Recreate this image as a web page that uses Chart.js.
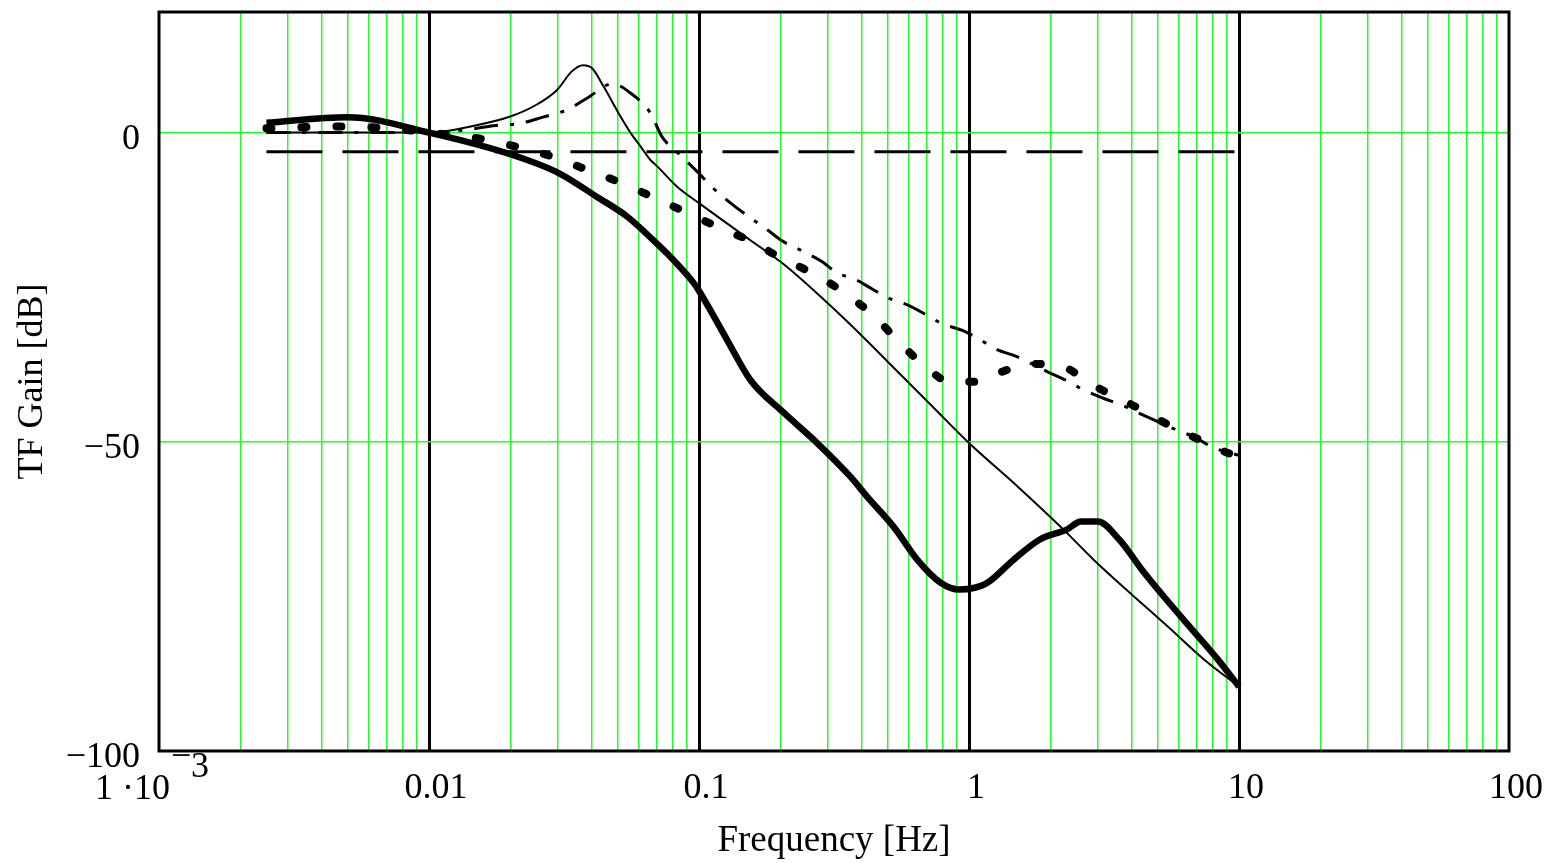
<!DOCTYPE html>
<html>
<head>
<meta charset="utf-8">
<script src="https://cdn.jsdelivr.net/npm/chart.js@4.4.1/dist/chart.umd.min.js"></script>
<style>
html, body { margin: 0; padding: 0; background: #fff; }
canvas { display: block; }
</style>
</head>
<body>
<canvas id="tfChart" width="1547" height="863"></canvas>
<script>
// thin solid line (resonant peak near 0.037 Hz)
const freqA = [0.0025, 0.005, 0.01, 0.015, 0.02, 0.025, 0.0298, 0.0338, 0.0372, 0.0402, 0.0444, 0.0512, 0.0557, 0.0609, 0.066, 0.0702, 0.0832, 0.1, 0.155, 0.206, 0.3, 0.4, 0.56, 0.74, 1, 1.52, 2.24, 2.9, 4.08, 5.46, 7.42, 10];
const gainA = [0, 0, 0, 1.2, 2.6, 4.5, 6.9, 9.9, 10.9, 10.4, 7.4, 2.6, 0, -2.3, -4.4, -5.5, -8.8, -11.4, -17.4, -21.3, -27.6, -32.8, -39.2, -44.5, -50.2, -57.3, -64.2, -69.1, -75, -79.9, -85.2, -89.6];

// thin dash-dot line
const freqB = [0.0025, 0.005, 0.01, 0.014, 0.0173, 0.0218, 0.0264, 0.0325, 0.0386, 0.0478, 0.0557, 0.066, 0.073, 0.0851, 0.0989, 0.113, 0.131, 0.155, 0.179, 0.203, 0.24, 0.286, 0.325, 0.378, 0.438, 0.5, 0.594, 0.697, 0.795, 0.945, 1.1, 1.27, 1.48, 1.98, 2.27, 2.66, 3.16, 3.66, 4.23, 5.28, 6.1, 6.66, 8.1, 10];
const gainB = [0, 0, 0, 0.5, 1.1, 1.5, 2.5, 3.7, 5.6, 7.9, 6.4, 3.2, -0.7, -3.6, -6.4, -9.0, -11.4, -13.8, -15.7, -17.5, -19.1, -20.9, -22.7, -23.7, -25.3, -26.7, -27.9, -29.5, -30.9, -32, -33.5, -35.1, -36.1, -38.8, -40, -41.6, -43, -44, -45.3, -47.2, -48.4, -49, -51, -52.2];

// bold dotted line
const freqC = [0.0025, 0.005, 0.007, 0.01, 0.0155, 0.0212, 0.0282, 0.0379, 0.0512, 0.0688, 0.0929, 0.122, 0.162, 0.197, 0.241, 0.299, 0.363, 0.441, 0.549, 0.692, 0.852, 1.08, 1.32, 1.69, 2.24, 2.7, 3.25, 3.96, 4.89, 5.98, 7.42, 9.09, 10];
const gainC = [0.7, 1.0, 0.7, 0, -1.0, -2.3, -3.8, -5.9, -8.1, -10.6, -13.2, -15.6, -17.9, -20.1, -21.9, -24.1, -26.6, -29.5, -33.8, -37.9, -40.3, -40.3, -38.7, -37.4, -37.9, -40, -42.1, -43.9, -46.1, -48.1, -50, -51.8, -52.4];

// thick solid line
const freqD = [0.0025, 0.005, 0.01, 0.02, 0.0301, 0.0419, 0.0543, 0.0677, 0.0804, 0.0955, 0.101, 0.127, 0.155, 0.206, 0.274, 0.363, 0.42, 0.527, 0.644, 0.785, 0.92, 1.05, 1.17, 1.46, 1.83, 2.3, 2.6, 3.0, 3.6, 4.39, 5.38, 6.72, 8.46, 10];
const gainD = [1.6, 2.5, 0, -3.5, -6.5, -10.4, -13.6, -17.4, -20.6, -24.3, -25.9, -33.5, -40, -45.3, -50.2, -55.6, -58.9, -63.8, -69.1, -72.8, -73.9, -73.6, -72.8, -69.1, -65.8, -64.2, -62.9, -62.9, -65.8, -70.8, -75.5, -80.4, -85.5, -89.6];

// long dashed -3 dB reference
const freqE = [0.0025, 10];
const gainE = [-3.1, -3.1];

// axes
const yTicks = [-100, -50, 0];
const yLabels = ['\u2212100', '\u221250', '0'];
const decades = [0.001, 0.01, 0.1, 1, 10, 100];
const decadeLabels = ['', '0.01', '0.1', '1', '10', '100'];

const xTicks = [];
decades.forEach((d, i) => {
    for (let m = 1; m <= 9; m++) {
        if (i === decades.length - 1 && m > 1) break;
        xTicks.push(m * d);
    }
});

const serif = 'Liberation Serif';
const isDecade = v => Math.abs(Math.log10(v) - Math.round(Math.log10(v))) < 1e-6;
const isEdge = v => Math.abs(v - 0.001) < 1e-9 || Math.abs(v - 100) < 1e-6;
const pts = (f, g) => f.map((x, i) => ({ x: x, y: g[i] }));

// grid styles per tick (indexable options)
const green = '#22ff22';
const xGridColor = xTicks.map(v => isEdge(v) ? 'rgba(0,0,0,0)' : (isDecade(v) ? '#000' : green));
const xGridWidth = xTicks.map(v => isDecade(v) ? 3 : 1.5);
const yGridColor = yTicks.map(v => v === -100 ? 'rgba(0,0,0,0)' : green);

const zeroPad = s => { s.paddingTop = 0; s.paddingBottom = 0; s.paddingLeft = 0; s.paddingRight = 0; };

const framePlugin = {
    id: 'frame',
    afterDatasetsDraw(chart) {
        const ctx = chart.ctx;
        const a = chart.chartArea;
        ctx.save();
        ctx.strokeStyle = '#000';
        ctx.lineWidth = 3;
        ctx.strokeRect(a.left, a.top, a.right - a.left, a.bottom - a.top);
        // 1·10^-3 tick label
        ctx.fillStyle = '#000';
        ctx.font = '36px "' + serif + '"';
        ctx.textAlign = 'right';
        ctx.fillText('1 \u00b710', a.left + 11, a.bottom + 48);
        ctx.textAlign = 'left';
        ctx.fillText('\u2212', a.left + 12, a.bottom + 16);
        ctx.fillText('3', a.left + 32, a.bottom + 26);
        ctx.restore();
    }
};

const line = (data, width, dash, cap) => ({
    data: data,
    borderColor: '#000',
    borderWidth: width,
    borderDash: dash,
    borderCapStyle: cap || 'butt',
    borderJoinStyle: 'round',
    pointRadius: 0,
    fill: false,
    cubicInterpolationMode: 'monotone'
});

const ctx = document.getElementById('tfChart').getContext('2d');
const chart = new Chart(ctx, {
    type: 'line',
    data: {
        datasets: [
            line(pts(freqD, gainD), 6.5, []),
            line(pts(freqA, gainA), 2, []),
            line(pts(freqC, gainC), 8, [5, 30], 'round'),
            line(pts(freqB, gainB), 3, [24, 12, 4, 12]),
            line(pts(freqE, gainE), 3, [56, 20])
        ]
    },
    options: {
        responsive: false,
        animation: false,
        layout: { padding: { left: 0, top: 12, right: 38, bottom: 0 } },
        plugins: { legend: { display: false }, tooltip: { enabled: false } },
        scales: {
            x: {
                type: 'logarithmic',
                min: 0.001,
                max: 100,
                afterBuildTicks: s => { s.ticks = xTicks.map(v => ({ value: v })); },
                afterFit: s => { s.height = 112; zeroPad(s); },
                ticks: {
                    autoSkip: false,
                    maxRotation: 0,
                    minRotation: 0,
                    padding: 16,
                    labelOffset: 7,
                    color: '#000',
                    font: { family: serif, size: 36 },
                    callback: v => {
                        const i = decades.findIndex(d => Math.abs(d - v) < d * 1e-6);
                        return i >= 0 ? decadeLabels[i] : '';
                    }
                },
                grid: {
                    drawTicks: false,
                    color: xGridColor,
                    lineWidth: xGridWidth
                },
                border: { display: false },
                title: {
                    display: true,
                    text: 'Frequency [Hz]',
                    color: '#000',
                    font: { family: serif, size: 37 },
                    padding: { top: 0, bottom: 0 }
                }
            },
            y: {
                min: -100,
                max: 19.5,
                afterBuildTicks: s => { s.ticks = yTicks.map(v => ({ value: v })); },
                afterFit: s => { s.width = 159; zeroPad(s); },
                ticks: {
                    padding: 19,
                    labelOffset: 7,
                    color: '#000',
                    font: { family: serif, size: 36 },
                    callback: v => {
                        const i = yTicks.indexOf(v);
                        return i >= 0 ? yLabels[i] : '';
                    }
                },
                grid: {
                    drawTicks: false,
                    color: yGridColor,
                    lineWidth: 1.5
                },
                border: { display: false },
                title: {
                    display: true,
                    text: 'TF Gain [dB]',
                    color: '#000',
                    font: { family: serif, size: 36 },
                    padding: { top: 11, bottom: 0 }
                }
            }
        }
    },
    plugins: [framePlugin]
});
</script>
</body>
</html>
